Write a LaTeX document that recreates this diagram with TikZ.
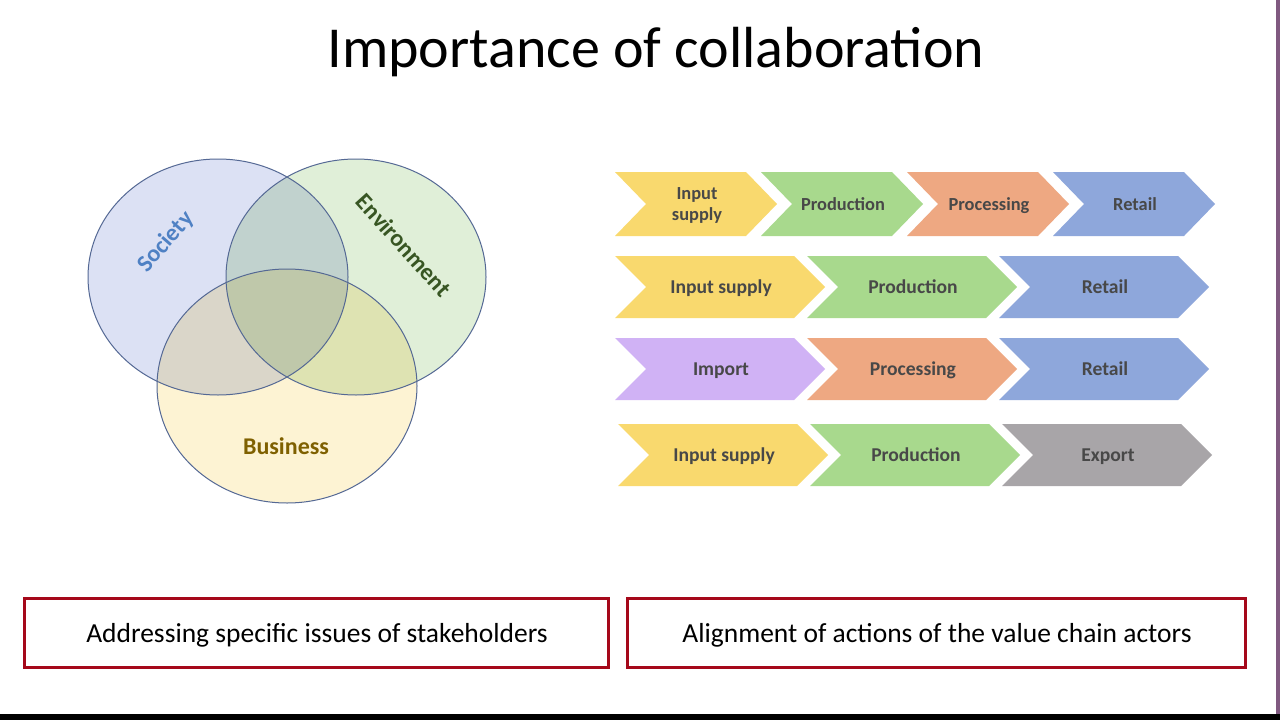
\documentclass[tikz,border=0pt]{standalone}
\usepackage{fontspec}
\setmainfont{Carlito}
\definecolor{cyel}{RGB}{249,217,110}
\definecolor{cgrn}{RGB}{168,217,141}
\definecolor{corg}{RGB}{238,168,130}
\definecolor{cblu}{RGB}{142,167,219}
\definecolor{cpur}{RGB}{208,178,245}
\definecolor{cgry}{RGB}{168,165,168}
\definecolor{ctxt}{RGB}{72,72,72}
\definecolor{soc}{RGB}{220,225,244}
\definecolor{env}{RGB}{224,239,216}
\definecolor{bus}{RGB}{253,243,211}
\definecolor{vedge}{RGB}{84,104,148}
\definecolor{boxred}{RGB}{165,8,26}
\definecolor{soctxt}{RGB}{79,129,196}
\definecolor{envtxt}{RGB}{56,86,35}
\definecolor{bustxt}{RGB}{127,96,0}
\newcommand{\chev}[7]{%
  \fill[#6] (#2,#3) -- ++(#4-31,0) -- ++(31,#5/2) -- ++(-31,#5/2) -- ++(-#4+31,0) -- ++(31,-#5/2) -- cycle;
  \node[chevtext] (#1) at (#2+#4/2+1, #3+#5/2+1.5) {#7};}
\tikzset{
  chevtext/.style={text=ctxt, align=center, inner sep=0pt},
  vennedge/.style={draw=vedge, line width=1pt},
  redbox/.style={draw=boxred, line width=3pt, fill=white},
  boxtext/.style={font=\fontsize{27.5}{30}\selectfont, text=black, anchor=base}
}
\begin{document}
\begin{tikzpicture}[x=1pt,y=-1pt]
\useasboundingbox (0,0) rectangle (1280,720);
\fill[white] (0,0) rectangle (1280,720);
% title
\node[font=\fontsize{58}{60}\selectfont, anchor=base] (title) at (656,67) {Importance of collaboration};
% Venn
\begin{scope}[blend group=multiply]
  \fill[soc] (218,277) ellipse [x radius=130, y radius=118];
  \fill[env] (356,277) ellipse [x radius=130, y radius=118];
  \fill[bus] (287,386) ellipse [x radius=130, y radius=117];
\end{scope}
\draw[vennedge] (218,277) ellipse [x radius=130, y radius=118];
\draw[vennedge] (356,277) ellipse [x radius=130, y radius=118];
\draw[vennedge] (287,386) ellipse [x radius=130, y radius=117];
\node[font=\bfseries\fontsize{24}{26}\selectfont, text=soctxt, rotate=49] (society) at (166,242) {Society};
\node[font=\bfseries\fontsize{24}{26}\selectfont, text=envtxt, rotate=-48] (environment) at (404,245) {Environment};
\node[font=\bfseries\fontsize{24}{26}\selectfont, text=bustxt] (business) at (286,446) {Business};
% row 1
\tikzset{chevtext/.append style={font=\bfseries\fontsize{18.4}{21}\selectfont}}
\chev{a1}{615}{172}{162}{64}{cyel}{Input\\supply}
\chev{a2}{761}{172}{162}{64}{cgrn}{\vphantom{Ag}Production}
\chev{a3}{907}{172}{162}{64}{corg}{\vphantom{Ag}Processing}
\chev{a4}{1053}{172}{162}{64}{cblu}{\vphantom{Ag}Retail}
% row 2
\tikzset{chevtext/.append style={font=\bfseries\fontsize{19.6}{21}\selectfont}}
\chev{b1}{615}{256}{210}{62}{cyel}{\vphantom{Ag}Input supply}
\chev{b2}{807}{256}{210}{62}{cgrn}{\vphantom{Ag}Production}
\chev{b3}{999}{256}{210}{62}{cblu}{\vphantom{Ag}Retail}
% row 3
\chev{c1}{615}{338}{210}{62}{cpur}{\vphantom{Ag}Import}
\chev{c2}{807}{338}{210}{62}{corg}{\vphantom{Ag}Processing}
\chev{c3}{999}{338}{210}{62}{cblu}{\vphantom{Ag}Retail}
% row 4
\chev{d1}{618}{424}{210}{62}{cyel}{\vphantom{Ag}Input supply}
\chev{d2}{810}{424}{210}{62}{cgrn}{\vphantom{Ag}Production}
\chev{d3}{1002}{424}{210}{62}{cgry}{\vphantom{Ag}Export}
% bottom boxes
\draw[redbox] (24.5,598.5) rectangle (608.5,667.5);
\node[boxtext] (lefttext) at (317,642) {Addressing specific issues of stakeholders};
\draw[redbox] (627.5,598.5) rectangle (1245.5,667.5);
\node[boxtext] (righttext) at (937,642) {Alignment of actions of the value chain actors};
% frame artifacts
\fill[black] (0,714) rectangle (1280,720);
\fill[gray!70!violet] (1276,0) rectangle (1280,714);
\end{tikzpicture}
\end{document}
